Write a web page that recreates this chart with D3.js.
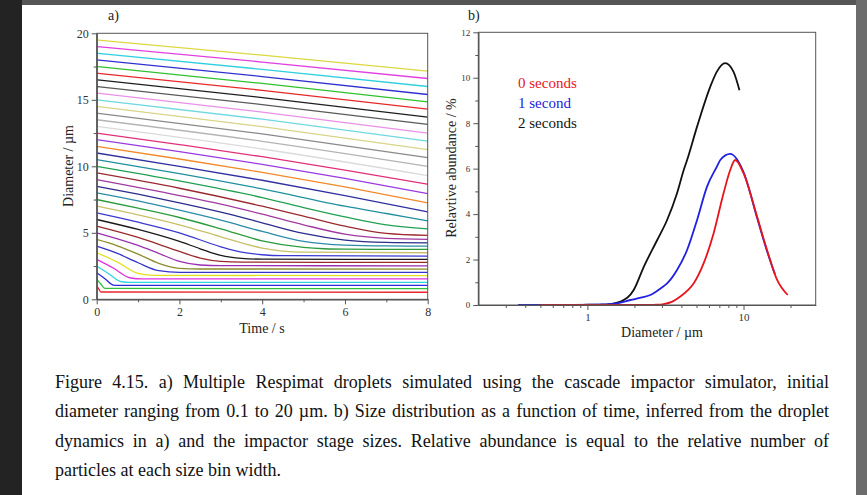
<!DOCTYPE html>
<html>
<head>
<meta charset="utf-8">
<script src="https://cdn.jsdelivr.net/npm/d3@7"></script>
<style>
  html, body { margin: 0; padding: 0; background: #262626; }
  svg { display: block; }
  text { font-family: "Liberation Serif", "Times New Roman", serif; }
</style>
</head>
<body>
<svg id="fig" width="867" height="495"></svg>
<script>
// a) droplet diameter (um) vs time (s), one track per initial size, smallest first
const dropletTracks = [
  [[0, 1.0], [0.05, 0.78], [0.1, 0.55], [8, 0.53]],
  [[0, 1.5], [0.1, 1.15], [0.2, 0.82], [8, 0.8]],
  [[0, 2.0], [0.2, 1.55], [0.4, 1.07], [0.5, 1.05], [8, 1.05]],
  [[0, 2.5], [0.3, 1.9], [0.6, 1.32], [0.8, 1.28], [8, 1.28]],
  [[0, 3.0], [0.4, 2.35], [0.8, 1.62], [1.1, 1.53], [8, 1.53]],
  [[0, 3.5], [0.5, 2.8], [1.0, 1.95], [1.4, 1.8], [8, 1.78]],
  [[0, 4.0], [0.5, 3.45], [1.0, 2.75], [1.5, 2.15], [2.0, 2.03], [8, 2.02]],
  [[0, 4.5], [0.5, 4.02], [1.0, 3.4], [1.5, 2.7], [2.0, 2.33], [2.5, 2.28], [8, 2.27]],
  [[0, 5.0], [1, 4.05], [1.5, 3.45], [2.0, 2.85], [2.5, 2.58], [3, 2.53], [8, 2.52]],
  [[0, 5.5], [1, 4.65], [2, 3.6], [2.5, 3.1], [3, 2.85], [3.5, 2.79], [8, 2.77]],
  [[0, 6.0], [1, 5.25], [2, 4.35], [2.5, 3.8], [3, 3.3], [3.5, 3.08], [4, 3.02], [8, 3.0]],
  [[0, 6.5], [1, 5.8], [2, 5.0], [3, 3.95], [3.5, 3.55], [4, 3.35], [4.5, 3.28], [8, 3.25]],
  [[0, 7.0], [1, 6.35], [2, 5.6], [3, 4.7], [4, 3.85], [4.5, 3.62], [5, 3.54], [8, 3.5]],
  [[0, 7.5], [1, 6.85], [2, 6.15], [3, 5.3], [4, 4.4], [5, 3.9], [5.5, 3.8], [6, 3.77], [8, 3.75]],
  [[0, 8.0], [1, 7.4], [2, 6.7], [3, 5.95], [4, 5.1], [5, 4.35], [6, 4.07], [7, 4.01], [8, 4.0]],
  [[0, 8.5], [1, 7.9], [2, 7.25], [3, 6.55], [4, 5.75], [5, 4.95], [6, 4.45], [7, 4.28], [8, 4.25]],
  [[0, 9.0], [2, 7.8], [3, 7.15], [4, 6.4], [5, 5.6], [6, 4.9], [7, 4.58], [8, 4.5]],
  [[0, 9.5], [2, 8.35], [4, 7.0], [5, 6.25], [6, 5.5], [7, 4.95], [8, 4.8]],
  [[0, 10.0], [2, 8.9], [4, 7.65], [5, 6.9], [6, 6.2], [7, 5.6], [8, 5.3]],
  [[0, 10.5], [2, 9.45], [4, 8.3], [6, 7.0], [7, 6.45], [8, 5.9]],
  [[0, 11.0], [2, 10.0], [4, 8.95], [6, 7.8], [8, 6.57]],
  [[0, 11.5], [2, 10.55], [4, 9.55], [6, 8.45], [8, 7.25]],
  [[0, 12.0], [2, 11.1], [4, 10.15], [6, 9.1], [8, 7.95]],
  [[0, 12.5], [2, 11.63], [4, 10.72], [6, 9.72], [8, 8.65]],
  [[0, 13.0], [4, 11.3], [8, 9.3]],
  [[0, 13.5], [4, 11.88], [8, 10.0]],
  [[0, 14.0], [4, 12.44], [8, 10.65]],
  [[0, 14.5], [4, 12.98], [8, 11.25]],
  [[0, 15.0], [4, 13.54], [8, 11.9]],
  [[0, 15.5], [4, 14.08], [8, 12.5]],
  [[0, 16.0], [4, 14.64], [8, 13.15]],
  [[0, 16.5], [4, 15.17], [8, 13.7]],
  [[0, 17.0], [4, 15.71], [8, 14.3]],
  [[0, 17.5], [4, 16.23], [8, 14.85]],
  [[0, 18.0], [4, 16.75], [8, 15.4]],
  [[0, 18.5], [4, 17.29], [8, 16.0]],
  [[0, 19.0], [4, 17.84], [8, 16.6]],
  [[0, 19.5], [4, 18.36], [8, 17.15]]
];
const dropletColors = [
  '#e8262a', '#2fbf3a', '#2a2ad8', '#30d4e0', '#e030e0', '#e0e020',
  '#3434c8', '#8c8c2a', '#9a30b0', '#9a2a2a', '#1a1a1a', '#3a3ad0',
  '#c8c068', '#2a9a3a', '#2a8ca8', '#2c2c8c', '#a03aa0', '#9a2a30',
  '#20a050', '#2090a0', '#3030a0', '#f08a2a', '#9a3ae0', '#e0307a',
  '#dadada', '#b4b4b4', '#8a8a8a', '#d8d488', '#70d8e0', '#e890e8',
  '#5a5a5a', '#1e1e1e', '#e82828', '#30c030', '#3030d0', '#30d0e0',
  '#e040e0', '#dcd840'
];
const timeMajor = [0, 2, 4, 6, 8];
const timeMinor = [1, 3, 5, 7];
const diamMajor = [0, 5, 10, 15, 20];
const diamMinor = [2.5, 7.5, 12.5, 17.5];

// b) size distributions
const seriesNames = ['2 seconds', '1 second', '0 seconds'];
const dist2sDiameter = [0.36, 0.8, 1.2, 1.4, 1.63, 1.98, 2.3, 2.8, 3.24, 3.75, 4.14, 4.35, 5.04, 6.12, 6.75, 7.63, 8.62, 9.42];
const dist2sAbundance = [0, 0, 0.01, 0.04, 0.15, 0.66, 1.69, 2.86, 3.74, 4.92, 5.94, 6.38, 7.85, 9.6, 10.27, 10.64, 10.27, 9.45];
const dist1sDiameter = [0.36, 0.5, 0.8, 1.0, 1.2, 1.4, 1.55, 1.89, 2.2, 2.53, 2.94, 3.24, 3.75, 4.35, 5.04, 5.83, 6.75, 7.1, 8.22, 10, 12.2, 14.1, 15.9];
const dist1sAbundance = [0, 0, 0, 0.01, 0.02, 0.04, 0.07, 0.22, 0.32, 0.44, 0.73, 0.95, 1.54, 2.42, 3.74, 5.2, 6.09, 6.38, 6.65, 5.85, 3.85, 2.4, 1.35];
const dist0sDiameter = [0.5, 1, 1.5, 2, 2.5, 2.8, 3.08, 3.5, 3.94, 4.4, 4.79, 5.55, 6.43, 7.45, 8.22, 8.84, 10, 12.2, 14.1, 16.3, 19.2];
const dist0sAbundance = [0, 0, 0, 0, 0, 0.01, 0.04, 0.15, 0.37, 0.65, 0.95, 1.83, 3.15, 4.92, 5.94, 6.38, 5.8, 3.9, 2.45, 1.15, 0.44];
const sizeMajor = [1, 10];
const sizeMinor = [0.3, 0.4, 0.5, 0.6, 0.7, 0.8, 0.9, 2, 3, 4, 5, 6, 7, 8, 9, 20];
const abundMajor = [0, 2, 4, 6, 8, 10, 12];
const abundMinor = [1, 3, 5, 7, 9, 11];

const legendLabels = ['0 seconds', '1 second', '2 seconds'];

const captionLines = [
  'Figure 4.15. a) Multiple Respimat droplets simulated using the cascade impactor simulator, initial',
  'diameter ranging from 0.1 to 20 \u00b5m. b) Size distribution as a function of time, inferred from the droplet',
  'dynamics in a) and the impactor stage sizes. Relative abundance is equal to the relative number of',
  'particles at each size bin width.'
];

const svg = d3.select('#fig');

// page on a dark backdrop
svg.append('rect').attr('width', 867).attr('height', 495).attr('fill', '#232323');
svg.append('rect').attr('x', 855).attr('width', 12).attr('height', 495).attr('fill', '#6c6c6c');
svg.append('rect').attr('x', 22).attr('width', 834).attr('height', 5).attr('fill', '#555');
svg.append('rect').attr('x', 22).attr('y', 5).attr('width', 834).attr('height', 490).attr('fill', '#fff');

const axisGray = '#555';
const styleAxis = (sel, fontSize) => {
  sel.select('.domain').attr('stroke', axisGray);
  sel.selectAll('.tick line').attr('stroke', axisGray);
  sel.selectAll('.tick text')
    .attr('fill', '#333')
    .attr('font-size', fontSize)
    .attr('font-family', '"Liberation Serif", serif');
};

// ---- panel a ----
const xA = d3.scaleLinear([0, 8], [96.7, 427.7]);
const yA = d3.scaleLinear([0, 20], [299.3, 33.3]);
const gA = svg.append('g');

const trackLine = d3.line()
  .x((p) => xA(p[0]))
  .y((p) => yA(p[1]))
  .curve(d3.curveMonotoneX);

gA.append('g')
  .selectAll('path')
  .data(dropletTracks)
  .join('path')
    .attr('fill', 'none')
    .attr('stroke', (d, i) => dropletColors[i])
    .attr('stroke-width', 1.3)
    .attr('d', trackLine);

gA.append('rect')
  .attr('x', xA(0)).attr('y', yA(20))
  .attr('width', xA(8) - xA(0)).attr('height', yA(0) - yA(20))
  .attr('fill', 'none').attr('stroke', axisGray);

gA.append('g')
  .attr('transform', `translate(0,${yA(0)})`)
  .call(d3.axisBottom(xA).tickValues(timeMinor).tickSize(3).tickSizeOuter(0).tickFormat(''))
  .call((s) => styleAxis(s, 12));
gA.append('g')
  .attr('transform', `translate(0,${yA(0)})`)
  .call(d3.axisBottom(xA).tickValues(timeMajor).tickSize(5).tickSizeOuter(0).tickPadding(3).tickFormat(d3.format('d')))
  .call((s) => styleAxis(s, 12));

gA.append('g')
  .attr('transform', `translate(${xA(0)},0)`)
  .call(d3.axisLeft(yA).tickValues(diamMinor).tickSize(3).tickSizeOuter(0).tickFormat(''))
  .call((s) => styleAxis(s, 12));
gA.append('g')
  .attr('transform', `translate(${xA(0)},0)`)
  .call(d3.axisLeft(yA).tickValues(diamMajor).tickSize(5).tickSizeOuter(0).tickPadding(3).tickFormat(d3.format('d')))
  .call((s) => styleAxis(s, 12));

gA.append('text').attr('x', 108).attr('y', 20).attr('font-size', 14).attr('fill', '#222').text('a)');
gA.append('text').attr('x', 262).attr('y', 333).attr('text-anchor', 'middle')
  .attr('font-size', 14).attr('fill', '#222').text('Time / s');
gA.append('text').attr('transform', 'translate(73,166) rotate(-90)').attr('text-anchor', 'middle')
  .attr('font-size', 14).attr('fill', '#222').text('Diameter / \u00b5m');

// ---- panel b ----
const xB = d3.scaleLog([0.2, 29], [478.3, 815.7]);
const yB = d3.scaleLinear([0, 12], [305, 32.3]);
const gB = svg.append('g');

const distSeries = [
  {name: seriesNames[0], color: '#111', pts: d3.zip(dist2sDiameter, dist2sAbundance)},
  {name: seriesNames[1], color: '#2020e0', pts: d3.zip(dist1sDiameter, dist1sAbundance)},
  {name: seriesNames[2], color: '#e8141c', pts: d3.zip(dist0sDiameter, dist0sAbundance)}
];

const distLine = d3.line()
  .x((p) => xB(p[0]))
  .y((p) => yB(p[1]))
  .curve(d3.curveMonotoneX);

gB.append('g')
  .selectAll('path')
  .data(distSeries)
  .join('path')
    .attr('fill', 'none')
    .attr('stroke', (d) => d.color)
    .attr('stroke-width', 1.8)
    .attr('d', (d) => distLine(d.pts));

gB.append('rect')
  .attr('x', xB(0.2)).attr('y', yB(12))
  .attr('width', xB(29) - xB(0.2)).attr('height', yB(0) - yB(12))
  .attr('fill', 'none').attr('stroke', axisGray);

gB.append('g')
  .attr('transform', `translate(0,${yB(0)})`)
  .call(d3.axisBottom(xB).tickValues(sizeMinor).tickSize(3).tickSizeOuter(0).tickFormat(''))
  .call((s) => styleAxis(s, 11));
gB.append('g')
  .attr('transform', `translate(0,${yB(0)})`)
  .call(d3.axisBottom(xB).tickValues(sizeMajor).tickSize(5).tickSizeOuter(0).tickPadding(3).tickFormat(d3.format('d')))
  .call((s) => styleAxis(s, 11));

gB.append('g')
  .attr('transform', `translate(${xB(0.2)},0)`)
  .call(d3.axisLeft(yB).tickValues(abundMinor).tickSize(3).tickSizeOuter(0).tickFormat(''))
  .call((s) => styleAxis(s, 9));
gB.append('g')
  .attr('transform', `translate(${xB(0.2)},0)`)
  .call(d3.axisLeft(yB).tickValues(abundMajor).tickSize(5).tickSizeOuter(0).tickPadding(3).tickFormat(d3.format('d')))
  .call((s) => styleAxis(s, 9));

gB.append('text').attr('x', 468).attr('y', 20).attr('font-size', 14).attr('fill', '#222').text('b)');
gB.append('text').attr('x', 662).attr('y', 337).attr('text-anchor', 'middle')
  .attr('font-size', 14).attr('fill', '#222').text('Diameter / \u00b5m');
gB.append('text').attr('transform', 'translate(456,168) rotate(-90)').attr('text-anchor', 'middle')
  .attr('font-size', 14).attr('fill', '#222').text('Relavtive abundance / %');

const legendColors = ['#e8141c', '#2020e0', '#111'];
gB.append('g')
  .selectAll('text')
  .data(legendLabels)
  .join('text')
    .attr('x', 518)
    .attr('y', (d, i) => 88 + i * 20)
    .attr('font-size', 15)
    .attr('fill', (d, i) => legendColors[i])
    .text((d) => d);

// ---- caption, justified by spreading the words ----
const capG = svg.append('g');
const capLeft = 55;
const capWidth = 774;
const capSize = 18;

captionLines.forEach((line, i) => {
  const y = 388 + i * 29.3;
  const words = line.split(' ');
  const txt = capG.append('text').attr('y', y).attr('font-size', capSize).attr('fill', '#111');
  const spans = words.map((w) => txt.append('tspan').text(w));
  const widths = spans.map((s) => s.node().getComputedTextLength());
  const last = i === captionLines.length - 1;
  let gap = last ? capSize * 0.25 : (capWidth - d3.sum(widths)) / (words.length - 1);

  if (gap < 2.5) {
    // too long for word spacing alone: squeeze the whole line
    txt.selectAll('tspan').remove();
    txt.attr('x', capLeft).attr('textLength', capWidth).attr('lengthAdjust', 'spacingAndGlyphs').text(line);
    return;
  }

  let x = capLeft;
  spans.forEach((s, j) => {
    s.attr('x', x);
    x += widths[j] + gap;
  });
});
</script>
</body>
</html>
